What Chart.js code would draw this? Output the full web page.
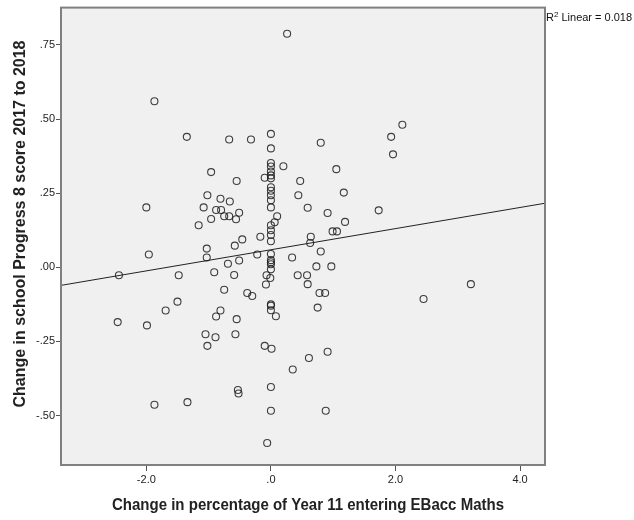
<!DOCTYPE html>
<html>
<head>
<meta charset="utf-8">
<script src="https://cdn.jsdelivr.net/npm/chart.js@4/dist/chart.umd.min.js"></script>
<style>
  html, body { margin: 0; padding: 0; background: #fff; }
  #wrap { width: 634px; height: 520px; }
</style>
</head>
<body>
<div id="wrap"><canvas id="chart" width="634" height="520"></canvas></div>
<script>
// change in % of Year 11 entering EBacc Maths (x) vs change in Progress 8 (y)
var schoolX = [
  -2.00, -1.87, -1.35, -0.67, -0.32, -0.96, -0.55, -1.02, -0.81, -0.66,
  -1.08, -0.88, -0.80, -0.51, -0.75, -0.67, -0.56, -0.96, -1.16, -0.46,
  -0.17, -2.44, -1.96, -1.48, -1.03, -1.03, -0.58, -0.22, -0.51, -0.69,
  -0.91, -0.59, -0.75, -0.38, -0.30, -1.50, -1.69, -0.81, -0.88, -0.55,
  -2.46, -1.99, -1.05, -0.89, -0.57, -1.02, -0.53, -0.52, -1.87, -1.34,
  0.26, 0.80, 1.93, 2.11, 1.96, 0.20, 1.05, -0.10, 0.47, 0.44,
  1.17, 0.59, 0.91, 1.73, 0.10, 0.06, 1.19, 0.99, 1.06, 0.64,
  0.63, 0.80, 0.34, 0.73, 0.97, 0.43, 0.58, 0.59, 0.78, 0.87,
  2.45, 3.21, 0.75, -0.10, 0.01, 0.91, 0.61, 0.35, 0.00, 0.00,
  0.88, -0.06, -0.07, -0.01, -0.08, 0.08,
  0.00, 0.00, 0.00, 0.00, 0.00, 0.00, 0.00, 0.00, 0.00, 0.00,
  0.00, 0.00, 0.00, 0.00, 0.00, 0.00, 0.00, 0.00, 0.00, 0.00,
  0.00, 0.00, 0.00, 0.00
];
var schoolY = [
  0.202, 0.560, 0.440, 0.431, 0.431, 0.321, 0.291, 0.243, 0.231, 0.222,
  0.202, 0.193, 0.193, 0.184, 0.172, 0.172, 0.162, 0.163, 0.142, 0.094,
  0.103, -0.027, 0.043, -0.027, 0.063, 0.033, 0.073, 0.043, 0.023, 0.012,
  -0.017, -0.026, -0.076, -0.087, -0.097, -0.116, -0.146, -0.146, -0.166, -0.175,
  -0.185, -0.196, -0.226, -0.236, -0.226, -0.265, -0.414, -0.426, -0.464, -0.455,
  0.788, 0.420, 0.440, 0.481, 0.381, 0.341, 0.331, 0.302, 0.291, 0.243,
  0.252, 0.201, 0.183, 0.192, 0.172, 0.152, 0.153, 0.121, 0.121, 0.103,
  0.082, 0.053, 0.033, 0.003, 0.003, -0.027, -0.027, -0.057, -0.087, -0.087,
  -0.107, -0.057, -0.136, -0.265, -0.275, -0.285, -0.306, -0.345, -0.404, -0.484,
  -0.484, -0.593, -0.027, -0.036, -0.058, -0.165,
  0.450, 0.401, 0.352, 0.340, 0.323, 0.310, 0.300, 0.270, 0.258, 0.243,
  0.226, 0.202, 0.142, 0.125, 0.109, 0.088, 0.045, 0.024, 0.017, 0.010,
  -0.007, -0.125, -0.130, -0.145
];

// linear fit line, read at the plot edges
var fitX = [-3.37, 4.40];
var fitY = [-0.061, 0.216];

var xTicks = [-2, 0, 2, 4];
var yTicks = [-0.5, -0.25, 0, 0.25, 0.5, 0.75];
var rSquared = "0.018";

var FONT = '"Liberation Sans", Arial, sans-serif';

function fmtY(v) {
  return v.toFixed(2).replace(/^(-?)0\./, "$1.");
}
function fmtX(v) {
  return v.toFixed(1).replace(/^(-?)0\./, "$1.");
}

var points = [];
for (var i in schoolX) {
  points.push({ x: schoolX[i], y: schoolY[i] });
}
var fitPoints = [];
for (var j in fitX) {
  fitPoints.push({ x: fitX[j], y: fitY[j] });
}

// bold SPSS style title, squeezed to a given length
function narrowTitle(ctx, text, width) {
  ctx.font = "bold 17px " + FONT;
  var m = ctx.measureText(text).width;
  ctx.scale(width / m, 1);
  ctx.fillText(text, 0, 0);
}

var spssLook = {
  id: "spssLook",
  beforeDraw: function (chart) {
    var a = chart.chartArea, ctx = chart.ctx;
    ctx.save();
    ctx.fillStyle = "#f0f0f0";
    ctx.fillRect(a.left, a.top, a.right - a.left, a.bottom - a.top);
    ctx.restore();
  },
  afterDraw: function (chart) {
    var a = chart.chartArea, ctx = chart.ctx;
    ctx.save();
    ctx.strokeStyle = "#808080";
    ctx.lineWidth = 2;
    ctx.strokeRect(a.left, a.top, a.right - a.left, a.bottom - a.top);
    ctx.restore();

    ctx.save();
    ctx.fillStyle = "#222";
    ctx.textAlign = "center";
    ctx.textBaseline = "middle";
    ctx.translate(308, 505);
    narrowTitle(ctx, "Change in percentage of Year 11 entering EBacc Maths", 392);
    ctx.restore();

    ctx.save();
    ctx.fillStyle = "#222";
    ctx.textAlign = "center";
    ctx.textBaseline = "middle";
    ctx.translate(20, 224);
    ctx.rotate(-Math.PI / 2);
    narrowTitle(ctx, "Change in school Progress 8 score 2017 to 2018", 367);
    ctx.restore();

    // R2 note, top right
    ctx.save();
    ctx.fillStyle = "#111";
    ctx.textAlign = "left";
    ctx.textBaseline = "alphabetic";
    var x0 = a.right + 1;
    ctx.font = "11px " + FONT;
    ctx.fillText("R", x0, 21);
    var w = ctx.measureText("R").width;
    ctx.font = "8px " + FONT;
    ctx.fillText("2", x0 + w, 17);
    var w2 = ctx.measureText("2").width;
    ctx.font = "11px " + FONT;
    ctx.fillText(" Linear = " + rSquared, x0 + w + w2, 21);
    ctx.restore();
  }
};

const myChart = new Chart(document.getElementById("chart"), {
  type: "scatter",
  data: {
    datasets: [
      {
        label: "Schools",
        data: points,
        pointRadius: 3.5,
        pointBorderWidth: 1.1,
        pointBackgroundColor: "rgba(0,0,0,0)",
        pointBorderColor: "rgba(30,30,30,0.85)",
        pointHoverRadius: 3.5
      },
      {
        type: "line",
        label: "Linear fit",
        data: fitPoints,
        borderColor: "#222",
        borderWidth: 1,
        pointRadius: 0,
        fill: false
      }
    ]
  },
  plugins: [spssLook],
  options: {
    responsive: false,
    animation: false,
    layout: { padding: { top: 7, right: 89, left: 0, bottom: 0 } },
    plugins: {
      legend: { display: false },
      tooltip: { enabled: false }
    },
    scales: {
      x: {
        type: "linear",
        min: -3.37,
        max: 4.40,
        afterBuildTicks: function (scale) {
          scale.ticks = xTicks.map(function (v) { return { value: v }; });
        },
        afterFit: function (scale) { scale.height = 55; },
        grid: { drawOnChartArea: false, drawTicks: true, tickLength: 6, color: "#555" },
        border: { display: true, color: "#808080", width: 1 },
        ticks: {
          color: "#222",
          font: { family: FONT, size: 11 },
          padding: 2,
          maxRotation: 0,
          callback: function (v) { return fmtX(v); }
        }
      },
      y: {
        type: "linear",
        min: -0.667,
        max: 0.876,
        afterBuildTicks: function (scale) {
          scale.ticks = yTicks.map(function (v) { return { value: v }; });
        },
        afterFit: function (scale) { scale.width = 61; },
        grid: { drawOnChartArea: false, drawTicks: true, tickLength: 5, color: "#555" },
        border: { display: true, color: "#808080", width: 1 },
        ticks: {
          color: "#222",
          font: { family: FONT, size: 11 },
          padding: 1,
          callback: function (v) { return fmtY(v); }
        }
      }
    }
  }
});
</script>
</body>
</html>
